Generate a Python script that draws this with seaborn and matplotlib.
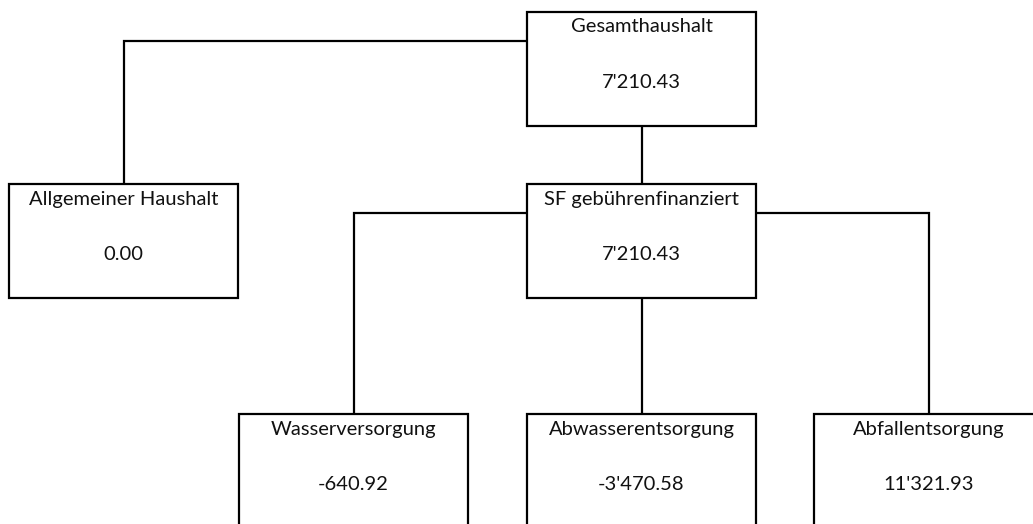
import matplotlib
matplotlib.use("Agg")
import matplotlib.pyplot as plt
import seaborn as sns
from matplotlib.patches import Rectangle

# Knoten des Haushaltsbaums
names = ["Gesamthaushalt", "Allgemeiner Haushalt", "SF gebührenfinanziert",
         "Wasserversorgung", "Abwasserentsorgung", "Abfallentsorgung"]
values = [7210.43, 0.00, 7210.43, -640.92, -3470.58, 11321.93]
parents = [None, 0, 0, 2, 2, 2]

# Layout (Pixel): linke Kante und Ebene jedes Kastens
box_left = [527, 9, 527, 239, 527, 814]
box_level = [0, 1, 1, 2, 2, 2]
level_top = [12, 184, 414]
box_w, box_h = 229, 114

sns.set_theme(style="white")
plt.rcParams['font.family'] = ['Lato', 'DejaVu Sans']

fig = plt.figure(figsize=(10.33, 5.24), dpi=100)
ax = fig.add_axes([0, 0, 1, 1])
ax.set_xlim(0, 1033)
ax.set_ylim(524, 0)
ax.axis("off")

lw = 1.6


def fmt(v):
    return f"{v:,.2f}".replace(",", "'")


# Verbindungslinien
for i, p in enumerate(parents):
    if p is None:
        continue
    cx = box_left[i] + box_w / 2
    top = level_top[box_level[i]]
    px = box_left[p] + box_w / 2
    if abs(cx - px) < 1:
        ax.plot([cx, cx], [level_top[box_level[p]] + box_h, top], color="black", lw=lw,
                solid_capstyle="butt")
    else:
        # seitlicher Abgang vom Elternkasten
        yline = level_top[box_level[p]] + 29
        side = box_left[p] if cx < px else box_left[p] + box_w
        ax.plot([side, cx, cx], [yline, yline, top], color="black", lw=lw,
                solid_joinstyle="miter", solid_capstyle="butt")

# Kästen und Texte
for i, name in enumerate(names):
    x = box_left[i]
    y = level_top[box_level[i]]
    ax.add_patch(Rectangle((x, y), box_w, box_h, facecolor="white",
                           edgecolor="black", lw=lw, joinstyle="miter", zorder=3))
    ax.text(x + box_w / 2, y + 15, name, ha="center", va="center",
            fontsize=14.5, color="#111111", zorder=4)
    ax.text(x + box_w / 2, y + 71, fmt(values[i]), ha="center", va="center",
            fontsize=14.5, color="#111111", zorder=4)

fig.savefig("out.png", dpi=100, facecolor="white")
